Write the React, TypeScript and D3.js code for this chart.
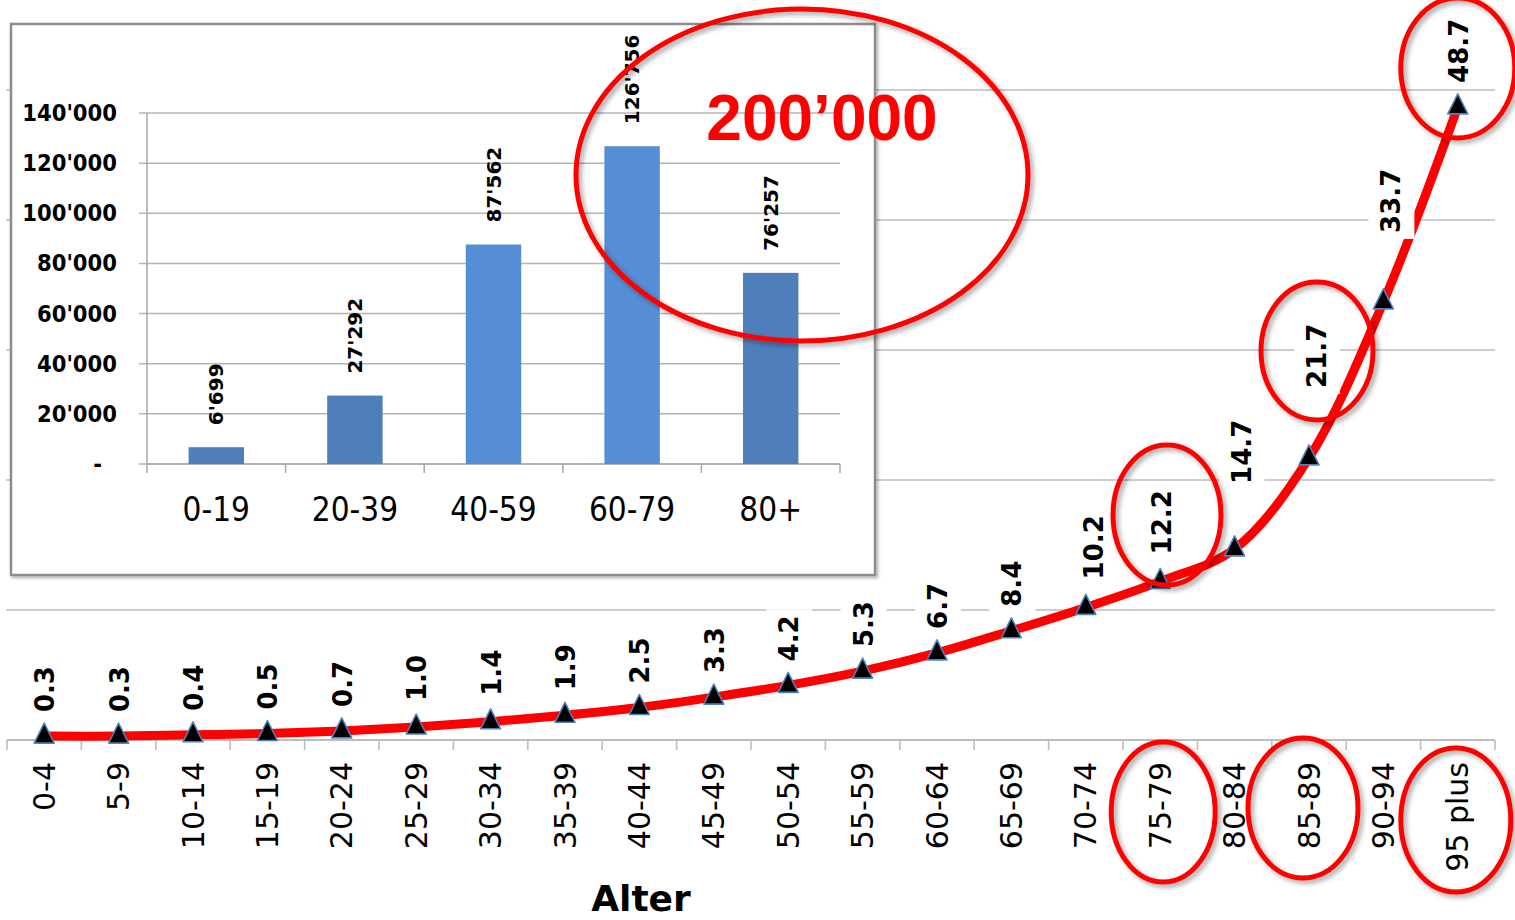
import React from "react";
import * as d3 from "d3";

// ---------- data ----------
const ageGroups = [
  "0-4", "5-9", "10-14", "15-19", "20-24", "25-29", "30-34", "35-39", "40-44", "45-49",
  "50-54", "55-59", "60-64", "65-69", "70-74", "75-79", "80-84", "85-89", "90-94", "95 plus",
];
const incidence = [
  0.3, 0.3, 0.4, 0.5, 0.7, 1.0, 1.4, 1.9, 2.5, 3.3,
  4.2, 5.3, 6.7, 8.4, 10.2, 12.2, 14.7, 21.7, 33.7, 48.7,
];
const mainTicks = [0, 10, 20, 30, 40, 50];
const xTitle = "Alter";

const insetGroups = ["0-19", "20-39", "40-59", "60-79", "80+"];
const insetCounts = [6699, 27292, 87562, 126756, 76257];
const insetTicks = [0, 20000, 40000, 60000, 80000, 100000, 120000, 140000];

const highlightText = "200\u2019000";
const circledPoints = ["75-79", "85-89", "95 plus"];

// ---------- layout (not data) ----------
const W = 1515;
const H = 920;
// extra lift / shift for some value labels (as placed in the original)
const labelLift = [24, 24, 24, 24, 24, 26, 26, 25, 24, 24, 24, 24, 24, 24, 28, 27, 65, 70, 69, 24];
const labelShift = [1, 1, 1, 1, 1, 1, 1, 1, 1, 1, 1, 1, 1, 1, 8, 2, 7, 8, 8, 1];

const fmtThousands = (v: number) =>
  v === 0 ? "-" : d3.format(",")(v).replace(/,/g, "'");

export default function App() {
  // main chart scales
  const x = d3.scaleBand<string>().domain(ageGroups).range([7, 1495]);
  const y = d3.scaleLinear().domain([0, 50]).range([740, 90]);
  const cx = (g: string) => (x(g) as number) + x.bandwidth() / 2;

  const pts: [number, number][] = ageGroups.map((g, i) => [cx(g), y(incidence[i])]);
  const line = d3.line().curve(d3.curveCatmullRom.alpha(0.5))(pts) as string;

  // inset scales
  const ix = d3.scaleBand<string>().domain(insetGroups).range([147, 840]);
  const iy = d3.scaleLinear().domain([0, 140000]).range([464, 113]);
  const barW = ix.bandwidth() * 0.4;
  const icx = (g: string) => (ix(g) as number) + ix.bandwidth() / 2;
  const barColors = ["#4f7fbb", "#4f7fbb", "#558ed5", "#558ed5", "#4f7fbb"];

  const labelFont = 26;
  const digitW = 0.696 * labelFont;
  const dotW = 0.38 * labelFont;

  return (
    <div style={{ position: "absolute", left: 0, top: 0, width: W, height: H, overflow: "hidden", background: "#fff" }}>
      <svg width={W} height={H} style={{ display: "block" }} fontFamily="'DejaVu Sans', Verdana, sans-serif">
        <defs>
          <filter id="shadow" x="-20%" y="-20%" width="140%" height="140%">
            <feDropShadow dx="3" dy="3" stdDeviation="2.5" floodColor="#000" floodOpacity="0.35" />
          </filter>
          <filter id="boxshadow" x="-5%" y="-5%" width="110%" height="110%">
            <feDropShadow dx="2" dy="2" stdDeviation="1.5" floodColor="#000" floodOpacity="0.3" />
          </filter>
        </defs>
        <rect width={W} height={H} fill="#fff" />

        {/* main gridlines */}
        {mainTicks.slice(1).map((t) => (
          <line key={t} x1={6} x2={1495} y1={y(t)} y2={y(t)} stroke="#bdbdbd" strokeWidth={1.6} />
        ))}
        {/* main x axis */}
        <line x1={7} x2={1495} y1={y(0)} y2={y(0)} stroke="#bdbdbd" strokeWidth={1.8} />
        {ageGroups.concat(["__end"]).map((g, i) => {
          const xx = 7 + i * x.bandwidth();
          return <line key={"t" + i} x1={xx} x2={xx} y1={y(0)} y2={y(0) + 10} stroke="#bdbdbd" strokeWidth={1.6} />;
        })}
        {ageGroups.map((g) => (
          <text
            key={"xl" + g}
            transform={`translate(${cx(g)},762) rotate(-90)`}
            textAnchor="end"
            dominantBaseline="central"
            fontSize={30}
            fill="#000"
          >
            {g}
          </text>
        ))}
        <text x={641} y={911} textAnchor="middle" fontSize={36} fontWeight="bold" fill="#000">
          {xTitle}
        </text>

        {/* inset chart */}
        <g>
          <rect x={11} y={24} width={864} height={551} fill="#fff" stroke="#8c8c8c" strokeWidth={2.5} filter="url(#boxshadow)" />
          {insetTicks.map((t) => (
            <line key={"ig" + t} x1={139} x2={840} y1={iy(t)} y2={iy(t)} stroke="#b5b5b5" strokeWidth={1.5} />
          ))}
          <line x1={147} x2={147} y1={iy(140000)} y2={iy(0)} stroke="#a8a8a8" strokeWidth={1.5} />
          <line x1={147} x2={840} y1={iy(0)} y2={iy(0)} stroke="#a8a8a8" strokeWidth={1.5} />
          {insetGroups.concat(["__end"]).map((g, i) => {
            const xx = 147 + i * ix.bandwidth();
            return <line key={"it" + i} x1={xx} x2={xx} y1={iy(0)} y2={iy(0) + 9} stroke="#a8a8a8" strokeWidth={1.5} />;
          })}
          {insetTicks.map((t) => (
            <text
              key={"iyl" + t}
              x={t === 0 ? 102 : 117}
              y={iy(t)}
              textAnchor="end"
              dominantBaseline="central"
              fontSize={23.5}
              fontWeight="bold"
              fontFamily="'DejaVu Sans Condensed', 'DejaVu Sans', sans-serif"
              fill="#000"
            >
              {fmtThousands(t)}
            </text>
          ))}
          {insetGroups.map((g, i) => (
            <rect
              key={"b" + g}
              x={icx(g) - barW / 2}
              y={iy(insetCounts[i])}
              width={barW}
              height={iy(0) - iy(insetCounts[i])}
              fill={barColors[i]}
            />
          ))}
          {insetGroups.map((g, i) => (
            <text
              key={"bl" + g}
              transform={`translate(${icx(g)},${iy(insetCounts[i]) - 22}) rotate(-90)`}
              textAnchor="start"
              dominantBaseline="central"
              fontSize={20}
              fontWeight="bold"
              fill="#000"
            >
              {fmtThousands(insetCounts[i])}
            </text>
          ))}
          {insetGroups.map((g) => (
            <text
              key={"ixl" + g}
              x={icx(g)}
              y={521}
              textAnchor="middle"
              fontSize={33}
              fontFamily="'DejaVu Sans Condensed', 'DejaVu Sans', sans-serif"
              fill="#000"
            >
              {g}
            </text>
          ))}
        </g>

        {/* red line */}
        <path d={line} fill="none" stroke="#ff0000" strokeWidth={9} strokeLinejoin="round" />
        {/* markers */}
        {pts.map(([px, py], i) => (
          <path
            key={"m" + i}
            d={`M${px},${py - 13} L${px + 10},${py + 7} L${px - 10},${py + 7} Z`}
            fill="#000"
            stroke="#4f81bd"
            strokeWidth={1.6}
            strokeLinejoin="round"
          />
        ))}
        {/* value labels with white boxes */}
        {pts.map(([px, py], i) => {
          const txt = incidence[i].toFixed(1);
          const nDigits = txt.replace(".", "").length;
          const len = nDigits * digitW + dotW;
          const lx = px + labelShift[i];
          const start = py - labelLift[i];
          return (
            <g key={"vl" + i}>
              <rect x={lx - 23} y={start - len - 6} width={46} height={len + 12} fill="#fff" />
              <text
                transform={`translate(${lx},${start}) rotate(-90)`}
                textAnchor="start"
                dominantBaseline="central"
                fontSize={labelFont}
                fontWeight="bold"
                fill="#000"
              >
                {txt}
              </text>
            </g>
          );
        })}

        {/* annotation ellipses */}
        <g fill="none" stroke="#ff0000" strokeWidth={5} filter="url(#shadow)">
          <ellipse cx={802} cy={175} rx={226} ry={166} />
          <ellipse cx={cx("95 plus")} cy={68} rx={57} ry={70} />
          <ellipse cx={1317} cy={351} rx={56} ry={69} />
          <ellipse cx={1167} cy={515} rx={54} ry={70} />
          {circledPoints.map((g, i) => (
            <ellipse key={"ce" + g} cx={cx(g) + [3, -6, -2][i]} cy={[812, 808, 820][i]} rx={[52, 55, 55][i]} ry={[70, 70, 72][i]} />
          ))}
        </g>
        <text
          x={822}
          y={140}
          textAnchor="middle"
          fontSize={64}
          fontWeight="bold"
          fontFamily="'Liberation Sans', Arial, sans-serif"
          fill="#ff0000"
        >
          {highlightText}
        </text>
      </svg>
    </div>
  );
}
